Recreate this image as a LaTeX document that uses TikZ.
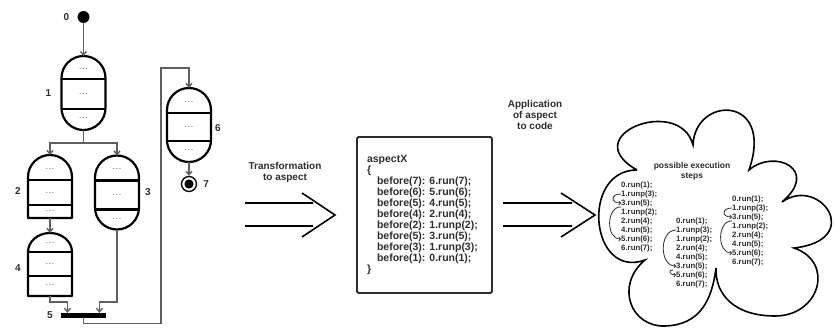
\documentclass[tikz,border=0pt]{standalone}
\usepackage{fontspec}
\setmainfont{Liberation Sans}
\usepackage{tikz}
\definecolor{inkgray}{RGB}{45, 45, 45}
\definecolor{linegray}{RGB}{95, 95, 95}
\definecolor{dotgray}{RGB}{120, 120, 120}
\usetikzlibrary{arrows.meta, positioning, calc}

% outline, splits and dots of one state: name, top arc, bottom arc (0 = square), split 1, split 2
\newcommand{\stateparts}[5]{%
  \ifnum#3>0
    \draw[stateline] ([yshift=-#2pt]#1.north west) arc[start angle=180, end angle=0, x radius=22pt, y radius=#2pt]
      -- ([yshift=#3pt]#1.south east) arc[start angle=0, end angle=-180, x radius=22pt, y radius=#3pt] -- cycle;
  \else
    \draw[stateline] ([yshift=-#2pt]#1.north west) arc[start angle=180, end angle=0, x radius=22pt, y radius=#2pt]
      -- (#1.south east) -- (#1.south west) -- cycle;
  \fi
  \draw[stateline] ([yshift=-#4pt]#1.north west) -- ([yshift=-#4pt]#1.north east)
                   ([yshift=-#5pt]#1.north west) -- ([yshift=-#5pt]#1.north east);
  \node[celldots] (#1-a) at ($(#1.north)!0.55!([yshift=-#4pt]#1.north)$) {.\,.\,.};
  \node[celldots] (#1-b) at ($([yshift=-#4pt]#1.north)!0.5!([yshift=-#5pt]#1.north)$) {.\,.\,.};
  \node[celldots] (#1-c) at ($([yshift=-#5pt]#1.north)!0.45!(#1.south)$) {.\,.\,.};
}

\begin{document}
\begin{tikzpicture}[
        x=1pt, y=-1pt,
        stateline/.style={line width=2.2pt, line join=round, black},
        statebody/.style={rectangle, minimum width=44pt, inner sep=0pt, outer sep=0pt},
        celldots/.style={font=\fontsize{7}{7}\selectfont\bfseries, text=dotgray, inner sep=0pt},
        flow/.style={draw=linegray, line width=1.4pt, -{Straight Barb[length=3.5pt, width=6pt]}},
        startstate/.style={circle, fill=black, minimum size=12pt, inner sep=0pt},
        endstate/.style={circle, draw=black, line width=1.3pt, minimum size=15pt, inner sep=0pt,
            path picture={\fill[black] (path picture bounding box.center) circle (4.6pt);}},
        joinbar/.style={rectangle, fill=black, minimum width=45pt, minimum height=5pt, inner sep=0pt},
        numlabel/.style={font=\fontsize{10}{10}\selectfont\bfseries, text=inkgray, inner sep=0pt},
        arrowcaption/.style={font=\fontsize{10}{11}\selectfont\bfseries, text=inkgray, align=center, inner sep=0pt},
        bigarrow/.style={line width=1.6pt, black, line join=miter},
        codebox/.style={draw=inkgray, line width=1.8pt, rounded corners=1.5pt, minimum width=135pt, minimum height=156pt,
            text width=115pt, align=left, inner xsep=10pt, font=\fontsize{10.5}{11}\selectfont\bfseries, text=inkgray},
        cloudline/.style={line width=1.6pt, black},
        cloudtitle/.style={font=\fontsize{8.5}{10}\selectfont\bfseries, text=inkgray, align=center, inner sep=0pt},
        steptext/.style={font=\fontsize{7.8}{8}\selectfont\bfseries, text=inkgray, anchor=west, inner sep=0pt},
        stepbracket/.style={draw=inkgray, line width=0.8pt, -{Straight Barb[length=1.5pt, width=3.5pt]}}
    ]
        \useasboundingbox (0,0) rectangle (834,334);

        % States
        \node[startstate] (n0) at (83.5,17) {};
        \node[statebody, minimum height=74pt] (n1) at (83.5,93) {};
        \node[statebody, minimum height=63pt] (n2) at (50,186.5) {};
        \node[statebody, minimum height=74pt] (n3) at (117,192.5) {};
        \node[statebody, minimum height=63pt] (n4) at (50,264.5) {};
        \node[joinbar] (bar) at (83.5,315.5) {};
        \node[statebody, minimum height=74pt] (n6) at (189,125) {};
        \node[endstate] (n7) at (189,184) {};

        \stateparts{n1}{22}{22}{23}{53}
        \stateparts{n2}{22}{0}{25}{50}
        \stateparts{n3}{22}{22}{25}{54}
        \stateparts{n4}{19}{0}{19}{43}
        \stateparts{n6}{22}{22}{25}{53}

        % Numbers
        \node[numlabel, left=8pt of n0] (l0) {0};
        \node[numlabel, left=10pt of n1] (l1) {1};
        \node[numlabel, left=7pt of n2, yshift=-5pt] (l2) {2};
        \node[numlabel, right=6pt of n3] (l3) {3};
        \node[numlabel, left=7pt of n4, yshift=-4pt] (l4) {4};
        \node[numlabel, left=8pt of bar] (l5) {5};
        \node[numlabel, right=4pt of n6, yshift=-3pt] (l6) {6};
        \node[numlabel, right=6pt of n7] (l7) {7};

        % Flow
        \coordinate (fork) at ($(n1.south)+(0,13)$);
        \coordinate (in4) at ($(bar.north)+(-16,0)$);
        \coordinate (in3) at ($(bar.north)+(16,0)$);
        \coordinate (back) at ($(n6.north)+(-28,-20)$);
        \draw[flow] (n0) -- (n1.north);
        \draw[flow] (n1.south) -- (fork) -| (n2.north);
        \draw[flow] (fork) -| (n3.north);
        \draw[flow] (n2.south) -- (n4.north);
        \draw[flow] (n4.south) -- ++(0,6) -| (in4);
        \draw[flow] (n3.south) |- ($(in3)+(0,-11)$) -- (in3);
        \draw[flow] (bar.south) -- ++(0,5) -| (back) -| (n6.north);
        \draw[flow] (n6.south) -- (n7.north);

        % Transformation to aspect
        \node[arrowcaption] (cap1) at (285,172) {Transformation\\to aspect};
        \draw[bigarrow] (245,203) -- (313,203) (245,226) -- (313,226) (302,193) -- (335,215) -- (302,237);

        % Aspect code
        \node[codebox] (code) at (424.5,215) {aspectX\\
            \{\\
            \hspace*{10pt}before(7):\hspace{4pt}6.run(7);\\
            \hspace*{10pt}before(6):\hspace{4pt}5.run(6);\\
            \hspace*{10pt}before(5):\hspace{4pt}4.run(5);\\
            \hspace*{10pt}before(4):\hspace{4pt}2.run(4);\\
            \hspace*{10pt}before(2):\hspace{4pt}1.runp(2);\\
            \hspace*{10pt}before(5):\hspace{4pt}3.run(5);\\
            \hspace*{10pt}before(3):\hspace{4pt}1.runp(3);\\
            \hspace*{10pt}before(1):\hspace{4pt}0.run(1);\\
            \}};

        % Application of aspect to code
        \node[arrowcaption] (cap2) at (535,115) {Application\\of aspect\\to code};
        \draw[bigarrow] (503,203) -- (572,203) (503,226) -- (572,226) (561,193) -- (595,215) -- (561,237);

        % Cloud
        \draw[cloudline] (637,170)
            .. controls (575,135) and (680,95) .. (693,145)
            .. controls (695,95) and (775,95) .. (749,170)
            .. controls (775,148) and (820,170) .. (782,202)
            .. controls (820,175) and (865,240) .. (794,248)
            .. controls (835,262) and (820,316) .. (775,316)
            .. controls (735,316) and (715,295) .. (716,268)
            .. controls (712,300) and (700,325) .. (665,326)
            .. controls (630,327) and (615,285) .. (645,260)
            .. controls (590,280) and (580,170) .. (637,170);
        \node[cloudtitle] (steps) at (692,171) {possible execution\\steps};

        % Execution orders
        \foreach \col/\cx/\cy in {1/621/185, 3/732/199} {
            \foreach \txt [count=\i] in {{0.run(1);}, {1.runp(3);}, {3.run(5);}, {1.runp(2);}, {2.run(4);}, {4.run(5);}, {5.run(6);}, {6.run(7);}}
                \node[steptext] (c\col-\i) at (\cx,{\cy+9*(\i-1)}) {\txt};
        }
        \foreach \txt [count=\i] in {{0.run(1);}, {1.runp(3);}, {1.runp(2);}, {2.run(4);}, {4.run(5);}, {3.run(5);}, {5.run(6);}, {6.run(7);}}
            \node[steptext] (c2-\i) at (676,{221+9*(\i-1)}) {\txt};

        \draw[stepbracket] (c1-2.west) to[out=180, in=180, looseness=3] (c1-3.west);
        \draw[stepbracket] (c1-3.south west) to[out=180, in=180, looseness=1.2] (c1-7.west);
        \draw[stepbracket] (c3-2.west) to[out=180, in=180, looseness=3] (c3-3.west);
        \draw[stepbracket] (c3-3.south west) to[out=180, in=180, looseness=1.2] (c3-7.west);
        \draw[stepbracket] (c2-2.west) to[out=180, in=180, looseness=1.2] (c2-6.west);
        \draw[stepbracket] ([xshift=-3pt]c2-6.south west) to[out=180, in=180, looseness=2.5] (c2-7.west);
    \end{tikzpicture}
\end{document}
